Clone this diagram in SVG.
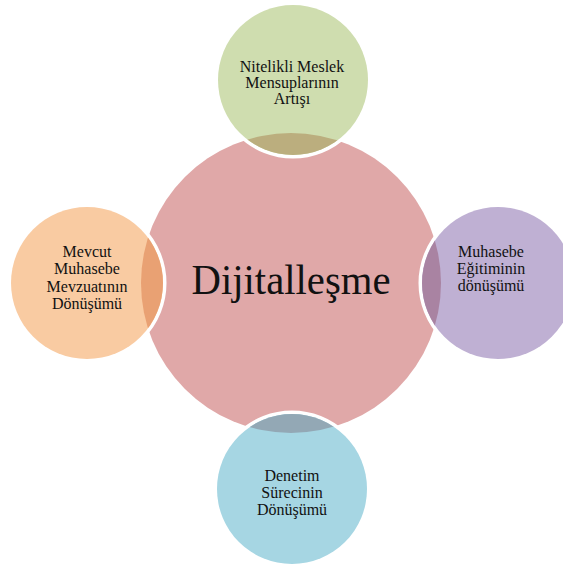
<svg xmlns="http://www.w3.org/2000/svg" width="563" height="568" viewBox="0 0 563 568">
<style>
.t{font-family:"Liberation Serif","DejaVu Serif",serif;fill:#111;text-anchor:middle}
.s{font-size:16px}
.ring{fill:none;stroke:#fff;stroke-width:7}
</style>
<defs>
<clipPath id="cm"><circle cx="291" cy="283" r="150"/></clipPath>
</defs>
<rect width="563" height="568" fill="#fff"/>
<g id="center">
<circle cx="291" cy="283" r="150" fill="#E0A8A8"/>
<text class="t" x="291" y="294" font-size="42" textLength="199" lengthAdjust="spacingAndGlyphs">Dijitalleşme</text>
</g>
<g id="connectors"></g>
<g id="top">
<circle class="ring" cx="293" cy="80" r="75"/>
<circle cx="293" cy="80" r="75" fill="#CFDDAF"/>
<circle cx="293" cy="80" r="75" fill="#BBAE7E" clip-path="url(#cm)"/>
<text class="t s" x="292" y="72">Nitelikli Meslek</text>
<text class="t s" x="292" y="88">Mensuplarının</text>
<text class="t s" x="292" y="104">Artışı</text>
</g>
<g id="right">
<circle class="ring" cx="498" cy="283" r="76"/>
<circle cx="498" cy="283" r="76" fill="#BFB0D3"/>
<circle cx="498" cy="283" r="76" fill="#A983A2" clip-path="url(#cm)"/>
<text class="t s" x="491" y="257">Muhasebe</text>
<text class="t s" x="491" y="274">Eğitiminin</text>
<text class="t s" x="491" y="291">dönüşümü</text>
</g>
<g id="bottom">
<circle class="ring" cx="292" cy="489" r="75"/>
<circle cx="292" cy="489" r="75" fill="#A6D6E3"/>
<circle cx="292" cy="489" r="75" fill="#93A8B5" clip-path="url(#cm)"/>
<text class="t s" x="292" y="481">Denetim</text>
<text class="t s" x="292" y="498">Sürecinin</text>
<text class="t s" x="292" y="515">Dönüşümü</text>
</g>
<g id="left">
<circle class="ring" cx="87" cy="283" r="76"/>
<circle cx="87" cy="283" r="76" fill="#F9CBA2"/>
<circle cx="87" cy="283" r="76" fill="#E9A173" clip-path="url(#cm)"/>
<text class="t s" x="87" y="257">Mevcut</text>
<text class="t s" x="87" y="274">Muhasebe</text>
<text class="t s" x="87" y="292">Mevzuatının</text>
<text class="t s" x="87" y="309">Dönüşümü</text>
</g>
</svg>
